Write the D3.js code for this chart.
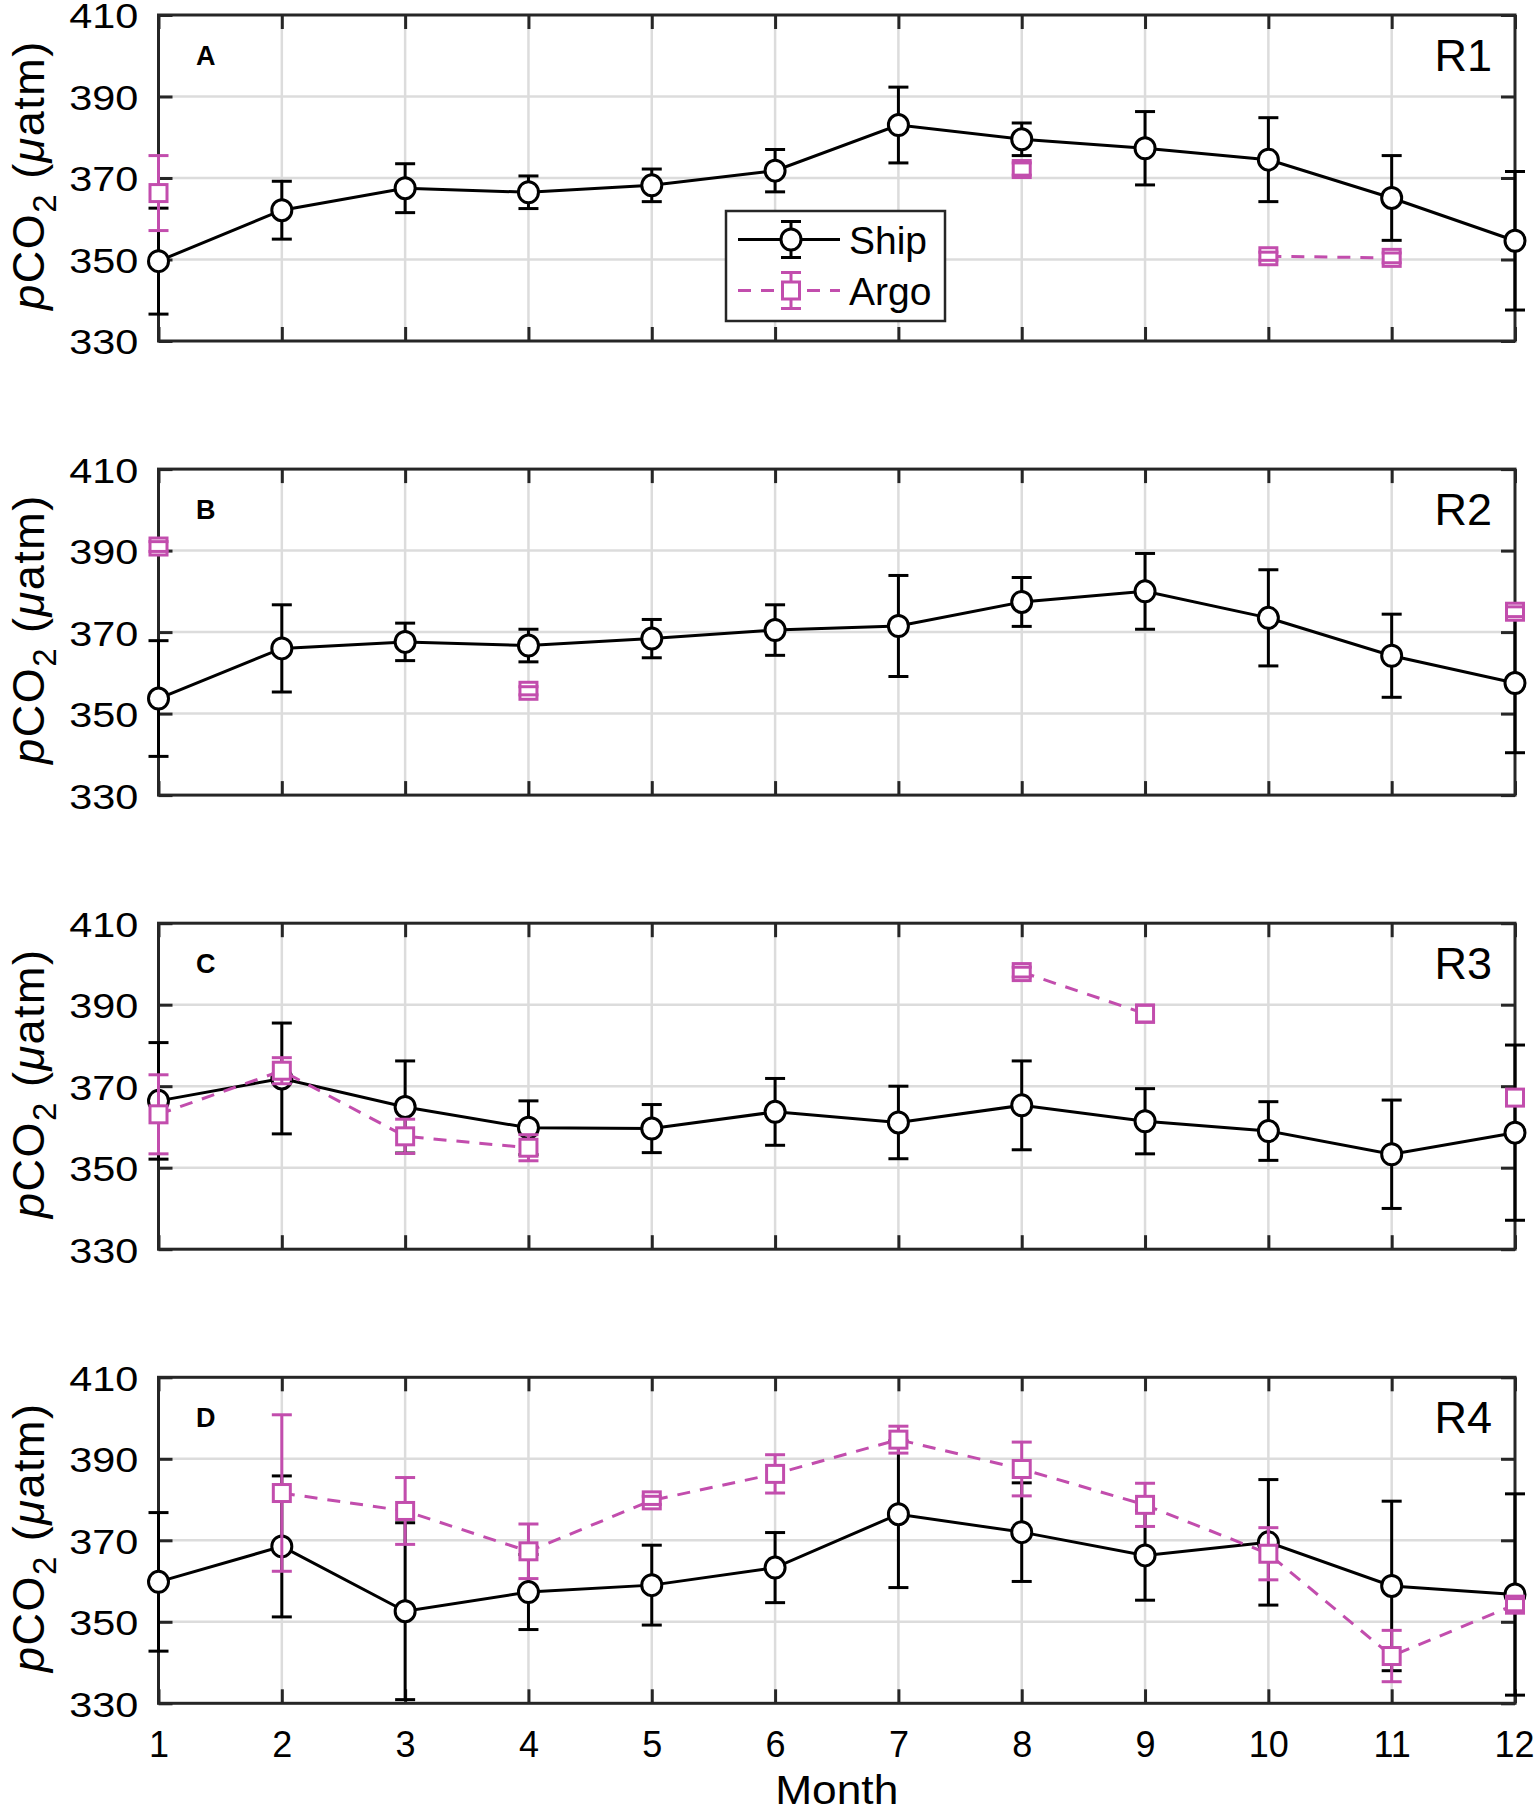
<!DOCTYPE html>
<html>
<head>
<meta charset="utf-8">
<script src="https://cdn.jsdelivr.net/npm/d3@7"></script>
<style>
  html, body { margin: 0; padding: 0; background: #fff; }
  svg { display: block; }
  text { font-family: "Liberation Sans", Arial, Helvetica, sans-serif; fill: #000; }
</style>
</head>
<body>
<svg id="chart" width="1535" height="1813"></svg>
<script>
// ---------------- DATA ----------------
const months = [1, 2, 3, 4, 5, 6, 7, 8, 9, 10, 11, 12];
const yTicks = [330, 350, 370, 390, 410];
const panelLetters = ["A", "B", "C", "D"];
const regionNames = ["R1", "R2", "R3", "R4"];
const seriesNames = ["Ship", "Argo"];

// Panel A (R1)
const shipA    = [349.6, 362.1, 367.5, 366.5, 368.2, 371.8, 383.0, 379.5, 377.3, 374.5, 365.1, 354.6];
const shipAErr = [13.0, 7.1, 6.0, 4.0, 4.0, 5.2, 9.3, 4.0, 9.0, 10.3, 10.4, 17.0];
const argoA    = [366.3, null, null, null, null, null, null, 372.2, null, 350.8, 350.4, null];
const argoAErr = [9.2, null, null, null, null, null, null, 1.5, null, 1.0, 1.2, null];

// Panel B (R2)
const shipB    = [353.7, 366.0, 367.6, 366.7, 368.4, 370.5, 371.5, 377.4, 380.0, 373.5, 364.2, 357.5];
const shipBErr = [14.2, 10.7, 4.6, 4.0, 4.7, 6.2, 12.4, 6.0, 9.3, 11.8, 10.2, 17.1];
const argoB    = [391.0, null, null, 355.6, null, null, null, null, null, null, null, 375.0];
const argoBErr = [1.2, null, null, 1.0, null, null, null, null, null, null, null, 1.2];

// Panel C (R3)
const shipC    = [366.4, 371.9, 364.9, 359.8, 359.6, 363.7, 361.1, 365.3, 361.4, 359.0, 353.3, 358.6];
const shipCErr = [14.3, 13.6, 11.3, 6.6, 5.9, 8.2, 8.9, 10.9, 8.0, 7.2, 13.3, 21.5];
const argoC    = [363.1, 373.8, 357.7, 354.9, null, null, null, 398.0, 387.8, null, null, 367.2];
const argoCErr = [9.7, 3.2, 4.2, 3.2, null, null, null, 1.2, 2.1, null, null, null];

// Panel D (R4)
const shipD    = [359.8, 368.5, 352.6, 357.3, 359.0, 363.3, 376.4, 372.0, 366.3, 369.5, 358.8, 356.7];
const shipDErr = [17.0, 17.3, 21.7, 9.2, 9.8, 8.6, 18.0, 12.1, 11.0, 15.4, 20.8, 24.7];
const argoD    = [null, 381.6, 377.2, 367.3, 379.8, 386.3, 394.7, 387.5, 378.7, 366.7, 341.6, 354.2];
const argoDErr = [null, 19.2, 8.2, 6.7, 1.0, 4.7, 3.3, 6.6, 5.3, 6.4, 6.3, 1.5];

// ---------------- LAYOUT / STYLE ----------------
const panels = [
  { ship: shipA, shipErr: shipAErr, argo: argoA, argoErr: argoAErr },
  { ship: shipB, shipErr: shipBErr, argo: argoB, argoErr: argoBErr },
  { ship: shipC, shipErr: shipCErr, argo: argoC, argoErr: argoCErr },
  { ship: shipD, shipErr: shipDErr, argo: argoD, argoErr: argoDErr }
];

const left = 158.5, right = 1515;
const top0 = 15, step = 454.1, ph = 326;
const axisColor = "#262626";
const gridColor = "#dcdcdc";
const magenta = "#C24DAD";
const capW = 10;
const dash = "13,10";
const yTickStretch = 1.15;

const svg = d3.select("#chart");
const x = d3.scaleLinear().domain([1, 12]).range([left, right]);

function drawSeries(g, y, vals, errs, color, dashed, marker) {
  const pts = months.map((m, i) => ({ m, v: vals[i], e: errs[i] }));
  const line = d3.line()
    .defined(d => d.v !== null)
    .x(d => x(d.m)).y(d => y(d.v));
  g.append("path").datum(pts)
    .attr("d", line)
    .attr("fill", "none")
    .attr("stroke", color)
    .attr("stroke-width", 3)
    .attr("stroke-dasharray", dashed ? dash : null);
  const valid = pts.filter(d => d.v !== null);
  const withErr = valid.filter(d => d.e !== null);
  g.selectAll(null).data(withErr).enter().append("line")
    .attr("x1", d => x(d.m)).attr("x2", d => x(d.m))
    .attr("y1", d => y(d.v - d.e)).attr("y2", d => y(d.v + d.e))
    .attr("stroke", color).attr("stroke-width", 3);
  if (marker === "circle") {
    g.selectAll(null).data(valid).enter().append("ellipse")
      .attr("cx", d => x(d.m)).attr("cy", d => y(d.v))
      .attr("rx", 10).attr("ry", 10.5)
      .attr("fill", "#fff").attr("stroke", color).attr("stroke-width", 3);
  } else {
    g.selectAll(null).data(valid).enter().append("rect")
      .attr("x", d => x(d.m) - 8.5).attr("y", d => y(d.v) - 8.5)
      .attr("width", 17).attr("height", 17)
      .attr("fill", "#fff").attr("stroke", color).attr("stroke-width", 3);
  }
  [1, -1].forEach(s => {
    g.selectAll(null).data(withErr).enter().append("line")
      .attr("x1", d => x(d.m) - capW).attr("x2", d => x(d.m) + capW)
      .attr("y1", d => y(d.v + s * d.e)).attr("y2", d => y(d.v + s * d.e))
      .attr("stroke", color).attr("stroke-width", 3);
  });
}

panels.forEach((p, i) => {
  const top = top0 + i * step;
  const bottom = top + ph;
  const y = d3.scaleLinear().domain([330, 410]).range([bottom, top]);
  const g = svg.append("g");

  // grid
  g.selectAll(null).data(months.slice(1, 11)).enter().append("line")
    .attr("x1", d => x(d)).attr("x2", d => x(d))
    .attr("y1", top).attr("y2", bottom)
    .attr("stroke", gridColor).attr("stroke-width", 2.5);
  g.selectAll(null).data(yTicks.slice(1, 4)).enter().append("line")
    .attr("x1", left).attr("x2", right)
    .attr("y1", d => y(d)).attr("y2", d => y(d))
    .attr("stroke", gridColor).attr("stroke-width", 2.5);

  // axes
  const yl = g.append("g").attr("transform", `translate(${left},0)`)
    .call(d3.axisLeft(y).tickValues(yTicks).tickSize(-14).tickPadding(17.5).tickFormat(d3.format("d")));
  const yr = g.append("g").attr("transform", `translate(${right},0)`)
    .call(d3.axisRight(y).tickValues(yTicks).tickSize(-14).tickFormat(""));
  const xb = g.append("g").attr("transform", `translate(0,${bottom})`)
    .call(d3.axisBottom(x).tickValues(months).tickSize(-14).tickPadding(28)
      .tickFormat(i === 3 ? d3.format("d") : ""));
  const xt = g.append("g").attr("transform", `translate(0,${top})`)
    .call(d3.axisTop(x).tickValues(months).tickSize(-14).tickFormat(""));
  [yl, yr, xb, xt].forEach(a => {
    a.select(".domain").remove();
    a.selectAll(".tick line").attr("stroke", axisColor).attr("stroke-width", 3);
    a.selectAll(".tick text")
      .style("font-family", "'Liberation Sans', Arial, Helvetica, sans-serif")
      .style("font-size", "36px").attr("fill", "#262626");
  });
  yl.selectAll(".tick text").attr("dy", "0.36em").attr("transform", `scale(${yTickStretch},1)`);
  xb.selectAll(".tick text").attr("x", (d, k) => k === 11 ? -1 : 0);

  g.append("rect")
    .attr("x", left).attr("y", top)
    .attr("width", right - left).attr("height", ph)
    .attr("fill", "none").attr("stroke", axisColor).attr("stroke-width", 3);

  // y label
  const yt = g.append("text")
    .attr("transform", `translate(44,${(top + bottom) / 2 - 3}) rotate(-90)`)
    .attr("text-anchor", "middle")
    .style("font-size", "45px").style("letter-spacing", "1.5px").attr("fill", "#262626");
  yt.append("tspan").attr("font-style", "italic").text("p");
  yt.append("tspan").text("CO");
  yt.append("tspan").attr("dy", 12).style("font-size", "33px").text("2");
  yt.append("tspan").attr("dy", -12).text(" (");
  yt.append("tspan").attr("font-style", "italic").text("\u03bc");
  yt.append("tspan").text("atm)");

  // panel letter & region
  g.append("text").attr("x", 196).attr("y", top + 50)
    .style("font-size", "27px").style("font-weight", "bold").text(panelLetters[i]);
  g.append("text").attr("x", 1492).attr("y", top + 56)
    .attr("text-anchor", "end").style("font-size", "45px").attr("fill", "#111").text(regionNames[i]);

  // data
  drawSeries(g.append("g"), y, p.ship, p.shipErr, "#000", false, "circle");
  drawSeries(g.append("g"), y, p.argo, p.argoErr, magenta, true, "square");

  // legend in first panel
  if (i === 0) {
    const lg = g.append("g");
    lg.append("rect").attr("x", 726).attr("y", 211).attr("width", 219).attr("height", 110)
      .attr("fill", "#fff").attr("stroke", axisColor).attr("stroke-width", 2.5);
    const rows = [
      { name: seriesNames[0], cy: 239.5, color: "#000", dashed: false, marker: "circle" },
      { name: seriesNames[1], cy: 290.5, color: magenta, dashed: true, marker: "square" }
    ];
    rows.forEach(r => {
      lg.append("line").attr("x1", 738).attr("x2", 840).attr("y1", r.cy).attr("y2", r.cy)
        .attr("stroke", r.color).attr("stroke-width", 3)
        .attr("stroke-dasharray", r.dashed ? dash : null);
      lg.append("line").attr("x1", 791).attr("x2", 791).attr("y1", r.cy - 18).attr("y2", r.cy + 18)
        .attr("stroke", r.color).attr("stroke-width", 3);
      if (r.marker === "circle") {
        lg.append("ellipse").attr("cx", 791).attr("cy", r.cy).attr("rx", 10).attr("ry", 10.5)
          .attr("fill", "#fff").attr("stroke", r.color).attr("stroke-width", 3);
      } else {
        lg.append("rect").attr("x", 782.5).attr("y", r.cy - 8.5).attr("width", 17).attr("height", 17)
          .attr("fill", "#fff").attr("stroke", r.color).attr("stroke-width", 3);
      }
      [-18, 18].forEach(o => lg.append("line")
        .attr("x1", 781).attr("x2", 801).attr("y1", r.cy + o).attr("y2", r.cy + o)
        .attr("stroke", r.color).attr("stroke-width", 3));
      lg.append("text").attr("x", 849).attr("y", r.cy + 14)
        .style("font-size", "39px").text(r.name);
    });
  }
});

// x label
svg.append("text")
  .attr("transform", `translate(${(left + right) / 2},1804) scale(1.08,1)`)
  .attr("text-anchor", "middle").style("font-size", "41px").attr("fill", "#262626").text("Month");
</script>
</body>
</html>
